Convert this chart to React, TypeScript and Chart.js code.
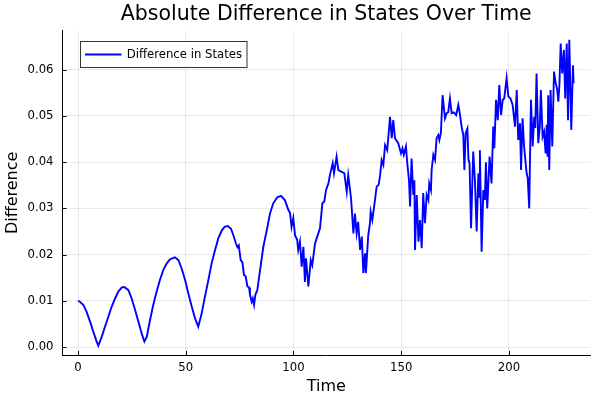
import { useEffect, useRef } from "react";
import { Chart, registerables } from "chart.js";

Chart.register(...registerables);

const chartTitle = "Absolute Difference in States Over Time";
const xAxisTitle = "Time";
const yAxisTitle = "Difference";
const seriesLabel = "Difference in States";

const xTickValues = [0, 50, 100, 150, 200];
const yTickValues = [0, 0.01, 0.02, 0.03, 0.04, 0.05, 0.06];

const timeValues = [
  0, 0.9, 2.5, 4.0, 5.6, 7.1, 8.7, 9.4,
  11.0, 12.5, 14.1, 15.6, 17.2, 18.7, 20.3, 21.5, 23.4, 24.9, 26.5, 28.0, 29.5, 30.8,
  31.9, 33.4, 34.9, 36.5, 38.0, 39.6, 41.2, 42.7, 45.0, 46.6, 48.1, 49.7, 51.2, 52.8, 54.3, 55.8,
  57.4, 58.9, 60.5, 62.0, 63.6, 65.1, 66.7, 68.0, 69.5, 71.0, 72.1, 73.3, 74.0, 74.6, 75.5, 76.3,
  77.0, 77.8, 78.6, 79.4, 79.8, 80.6, 81.1, 81.7, 82.3, 83.2, 84.5, 86.0, 87.6, 89.1, 90.6, 92.5,
  94.2, 96.0, 97.6, 98.4, 99.1, 99.9, 100.7, 101.7, 102.2, 103.0, 103.8, 104.6, 105.3, 105.8,
  106.9, 108.0, 108.7, 110.0, 111.5, 112.3, 113.4, 114.3, 115.1, 116.2, 116.9, 118.2, 118.8,
  120.0, 120.8, 122.4, 123.6, 124.7, 125.4, 126.7, 127.8, 128.5, 129.3, 130.0, 130.9, 131.7,
  132.4, 133.2, 133.6, 134.7, 135.5, 135.8, 136.6, 137.5, 138.6, 139.5, 140.2, 140.9, 141.7,
  142.5, 143.5, 144.8, 145.6, 146.3, 147.1, 148.6, 149.9, 150.6, 151.2, 152.2, 152.8, 153.6,
  154.1, 154.8, 155.6, 156.1, 156.4, 157.2, 158.0, 158.7, 159.5, 160.2, 161.0, 161.8, 162.6,
  163.0, 163.8, 164.1, 164.9, 165.7, 166.4, 167.2, 167.7, 168.4, 169.2, 170.3, 171.1, 171.8,
  172.6, 173.4, 174.4, 175.5, 176.5, 177.3, 178.0, 178.8, 179.3, 179.9, 180.7, 181.2, 181.7,
  182.4, 183.4, 184.2, 185.0, 185.8, 186.2, 186.5, 187.3, 188.1, 188.8, 189.3, 189.9, 191.0,
  191.9, 192.7, 193.2, 194.0, 194.8, 195.5, 196.3, 197.1, 197.8, 198.9, 199.7, 200.7, 201.7,
  202.8, 203.6, 204.3, 205.1, 205.6, 206.3, 207.0, 208.2, 208.7, 209.4, 210.2, 211.0, 211.7,
  212.2, 212.8, 213.6, 214.3, 214.8, 215.6, 216.3, 217.0, 217.5, 217.9, 218.2, 218.7, 219.3,
  220.1, 220.9, 221.7, 222.4, 222.9, 223.4, 224.0, 224.7, 225.5, 226.1, 226.8, 227.4, 228.0,
  228.9, 229.7, 230.0,
];

const differenceValues = [
  0.0100, 0.0098, 0.0091, 0.0076, 0.0055, 0.0033, 0.0011, 0.0003,
  0.0022, 0.0044, 0.0066, 0.0087, 0.0105, 0.0120, 0.0129, 0.0130, 0.0123, 0.0105, 0.0080, 0.0055, 0.0030, 0.0012,
  0.0022, 0.0058, 0.0091, 0.0120, 0.0145, 0.0167, 0.0181, 0.0190, 0.0194, 0.0188, 0.0170, 0.0145, 0.0116, 0.0087, 0.0062, 0.0044,
  0.0073, 0.0109, 0.0145, 0.0181, 0.0210, 0.0235, 0.0252, 0.0260, 0.0262, 0.0256, 0.0242, 0.0224, 0.0216, 0.0220, 0.0188, 0.0183,
  0.0156, 0.0153, 0.0131, 0.0129, 0.0113, 0.0098, 0.0105, 0.0091, 0.0113, 0.0123, 0.0167, 0.0217, 0.0253, 0.0289, 0.0311, 0.0324,
  0.0327, 0.0318, 0.0297, 0.0290, 0.0260, 0.0279, 0.0242, 0.0232, 0.0210, 0.0228, 0.0174, 0.0217, 0.0141, 0.0192,
  0.0131, 0.0188, 0.0177, 0.0224, 0.0246, 0.0257, 0.0311, 0.0315, 0.0340, 0.0354, 0.0372, 0.0398, 0.0376,
  0.0412, 0.0383, 0.0379, 0.0376, 0.0336, 0.0372, 0.0322, 0.0246, 0.0289, 0.0246, 0.0271, 0.0210, 0.0239,
  0.0160, 0.0203, 0.0160, 0.0242, 0.0268, 0.0293, 0.0275, 0.0307, 0.0347, 0.0351, 0.0372, 0.0405, 0.0394,
  0.0437, 0.0426, 0.0498, 0.0452, 0.0491, 0.0452, 0.0441, 0.0419, 0.0430, 0.0416, 0.0434, 0.0398, 0.0361,
  0.0304, 0.0408, 0.0329, 0.0361, 0.0210, 0.0329, 0.0228, 0.0275, 0.0214, 0.0333, 0.0268, 0.0329, 0.0318,
  0.0354, 0.0340, 0.0383, 0.0416, 0.0405, 0.0452, 0.0459, 0.0448, 0.0463, 0.0545, 0.0495, 0.0506, 0.0508,
  0.0538, 0.0506, 0.0508, 0.0502, 0.0524, 0.0502, 0.0477, 0.0459, 0.0383, 0.0463, 0.0473, 0.0405, 0.0398,
  0.0257, 0.0423, 0.0361, 0.0250, 0.0376, 0.0325, 0.0426, 0.0206, 0.0340, 0.0318, 0.0400, 0.0300, 0.0412,
  0.0354, 0.0477, 0.0430, 0.0535, 0.0491, 0.0567, 0.0502, 0.0535, 0.0538, 0.0582, 0.0542, 0.0538, 0.0524,
  0.0477, 0.0556, 0.0448, 0.0484, 0.0383, 0.0495, 0.0434, 0.0376, 0.0366, 0.0300, 0.0535, 0.0434, 0.0498,
  0.0474, 0.0592, 0.0441, 0.0477, 0.0556, 0.0455, 0.0466, 0.0419, 0.0481, 0.0412, 0.0545, 0.0383, 0.0556,
  0.0434, 0.0596, 0.0571, 0.0556, 0.0531, 0.0567, 0.0657, 0.0592, 0.0643, 0.0538, 0.0657, 0.0491, 0.0665,
  0.0470, 0.0610, 0.0571,
];

const X_MIN = -7.2;
const X_MAX = 237.6;
const Y_MIN = -0.00173;
const Y_MAX = 0.06846;

const FONT = "'DejaVu Sans', sans-serif";
const LINE_COLOR = "#0000ff";
const GRID_COLOR = "rgba(0,0,0,0.08)";

const decorPlugin = {
  id: "plotsDecor",
  afterDraw(chart: any) {
    const { ctx, chartArea, scales } = chart;
    const xs = scales.x;
    const ys = scales.y;
    ctx.save();
    // inward tick marks
    ctx.strokeStyle = "#000";
    ctx.lineWidth = 1;
    ctx.beginPath();
    xTickValues.forEach((v) => {
      const px = Math.round(xs.getPixelForValue(v)) + 0.5;
      ctx.moveTo(px, chartArea.bottom);
      ctx.lineTo(px, chartArea.bottom - 4);
    });
    yTickValues.forEach((v) => {
      const py = Math.round(ys.getPixelForValue(v)) + 0.5;
      ctx.moveTo(chartArea.left, py);
      ctx.lineTo(chartArea.left + 4, py);
    });
    ctx.stroke();

    // title
    ctx.fillStyle = "#000";
    ctx.font = `20.5px ${FONT}`;
    ctx.textAlign = "center";
    ctx.textBaseline = "alphabetic";
    ctx.fillText(chartTitle, (chartArea.left + chartArea.right) / 2, 19.5);

    // x axis title
    ctx.font = `16px ${FONT}`;
    ctx.fillText(xAxisTitle, (chartArea.left + chartArea.right) / 2, 391);

    // y axis title
    ctx.save();
    ctx.translate(13, (chartArea.top + chartArea.bottom) / 2);
    ctx.rotate(-Math.PI / 2);
    ctx.textBaseline = "middle";
    ctx.fillText(yAxisTitle, 0, 0);
    ctx.restore();

    // legend
    const bx = 80.5, by = 41.5, bw = 166.5, bh = 26;
    ctx.fillStyle = "#fff";
    ctx.fillRect(bx, by, bw, bh);
    ctx.strokeStyle = "#333";
    ctx.lineWidth = 1;
    ctx.strokeRect(bx, by, bw, bh);
    ctx.strokeStyle = LINE_COLOR;
    ctx.lineWidth = 1.9;
    ctx.beginPath();
    ctx.moveTo(85, 54.5);
    ctx.lineTo(121.5, 54.5);
    ctx.stroke();
    ctx.fillStyle = "#000";
    ctx.font = `11.7px ${FONT}`;
    ctx.textAlign = "left";
    ctx.textBaseline = "middle";
    ctx.fillText(seriesLabel, 126.7, 55);
    ctx.restore();
  },
};

export default function App() {
  const canvasRef = useRef<HTMLCanvasElement>(null);

  useEffect(() => {
    document.body.style.margin = "0";
    const canvas = canvasRef.current;
    if (!canvas) return;
    const points = timeValues.map((t, i) => ({ x: t, y: differenceValues[i] }));
    const chart = new Chart(canvas, {
      type: "line",
      data: {
        datasets: [
          {
            label: seriesLabel,
            data: points,
            borderColor: LINE_COLOR,
            backgroundColor: LINE_COLOR,
            borderWidth: 1.9,
            pointRadius: 0,
            tension: 0,
            fill: false,
          },
        ],
      },
      options: {
        responsive: false,
        animation: false,
        devicePixelRatio: 1,
        layout: { padding: { top: 30.7, right: 10, left: 0, bottom: 0 } },
        plugins: {
          legend: { display: false },
          title: { display: false },
          tooltip: { enabled: false },
        },
        scales: {
          x: {
            type: "linear",
            min: X_MIN,
            max: X_MAX,
            afterFit(scale: any) {
              scale.height = 45;
            },
            afterBuildTicks(scale: any) {
              scale.ticks = xTickValues.map((v) => ({ value: v }));
            },
            grid: { color: GRID_COLOR, lineWidth: 1, drawTicks: false },
            border: { display: true, color: "#000", width: 1 },
            ticks: {
              color: "#000",
              padding: 6,
              maxRotation: 0,
              font: { family: FONT, size: 11.7 },
              callback: (v: any) => String(v),
            },
          },
          y: {
            type: "linear",
            min: Y_MIN,
            max: Y_MAX,
            afterFit(scale: any) {
              scale.width = 62.5;
            },
            afterBuildTicks(scale: any) {
              scale.ticks = yTickValues.map((v) => ({ value: v }));
            },
            grid: { color: GRID_COLOR, lineWidth: 1, drawTicks: false },
            border: { display: true, color: "#000", width: 1 },
            ticks: {
              color: "#000",
              padding: 9,
              font: { family: FONT, size: 11.7 },
              callback: (v: any) => Number(v).toFixed(2),
            },
          },
        },
      },
      plugins: [decorPlugin],
    });
    return () => chart.destroy();
  }, []);

  return (
    <div style={{ width: 600, height: 400 }}>
      <canvas ref={canvasRef} width={600} height={400} style={{ display: "block" }} />
    </div>
  );
}
